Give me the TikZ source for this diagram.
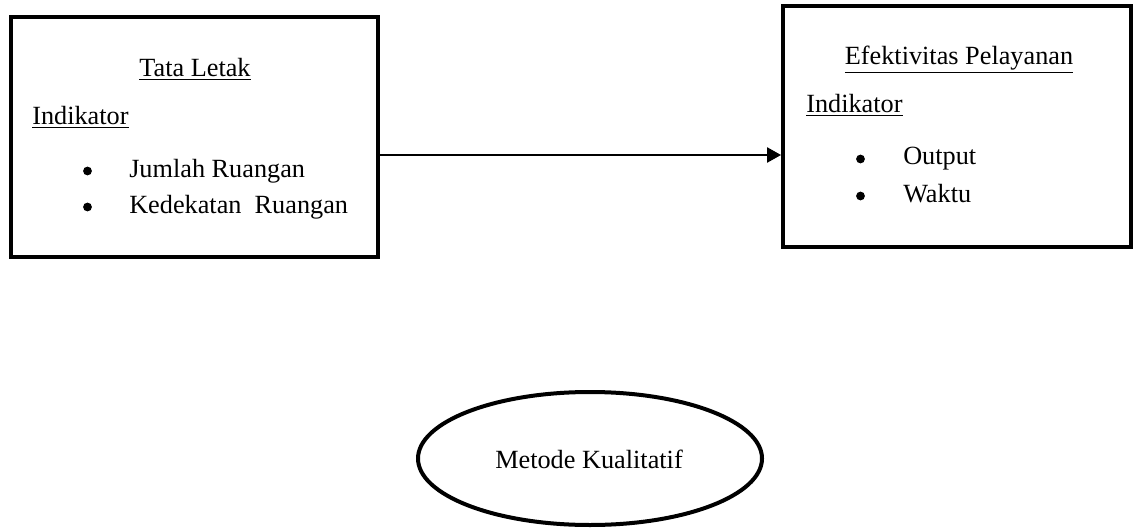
\documentclass[tikz,border=0pt]{standalone}
\usepackage{fontspec}
\setmainfont{Liberation Serif}
\usetikzlibrary{arrows.meta,shapes.geometric}
\begin{document}
\begin{tikzpicture}[x=0.75pt,y=-0.75pt,
  box/.style={draw,line width=3pt,inner sep=0pt},
  txt/.style={anchor=base west,inner sep=0pt,font=\fontsize{19.7}{24}\selectfont},
  ctxt/.style={anchor=base,inner sep=0pt,font=\fontsize{19.7}{24}\selectfont},
  dot/.style={circle,fill,inner sep=0pt,minimum size=6.6pt},
  conn/.style={line width=1.1pt,-{Triangle[length=10.5pt,width=11.5pt]}}]
\useasboundingbox (0,0) rectangle (1134,531);
% boxes
\node[box,minimum width=367*0.75pt,minimum height=240*0.75pt] (lbox) at (194.5,137) {};
\node[box,minimum width=348*0.75pt,minimum height=241*0.75pt] (rbox) at (957,126.5) {};
\node[draw,line width=3pt,ellipse,minimum width=344*0.75pt,minimum height=133*0.75pt,inner sep=0pt] (met) at (590,458.5) {};
% left texts
\node[ctxt] (ltitle) at (195,77) {\underline{Tata Letak}};
\node[txt] (lind) at (32,125) {\underline{Indikator}};
\node[dot] (lb1) at (87.5,171) {};
\node[txt] (li1) at (129,177) {Jumlah Ruangan};
\node[dot] (lb2) at (87.5,207) {};
\node[txt] (li2) at (129,213) {Kedekatan\ \ Ruangan};
% right texts
\node[ctxt] (rtitle) at (959,65) {\underline{Efektivitas Pelayanan}};
\node[txt] (rind) at (806,113) {\underline{Indikator}};
\node[dot] (rb1) at (860.5,159) {};
\node[txt] (ri1) at (903,165) {Output};
\node[dot] (rb2) at (860.5,196) {};
\node[txt] (ri2) at (903,202) {Waktu};
% ellipse text
\node[ctxt] (mtext) at (589,468) {Metode Kualitatif};
% connector
\coordinate (ay) at (0,155);
\draw[conn] (lbox.east |- ay) -- (rbox.west |- ay);
\end{tikzpicture}
\end{document}
